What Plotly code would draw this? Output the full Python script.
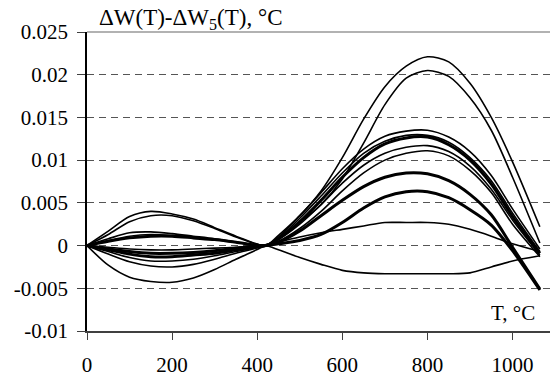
import plotly.graph_objects as go

# Temperature nodes, °C
T = [0, 50, 100, 150, 200, 250, 300, 350, 419.527, 450, 500, 550, 600, 650,
     700, 750, 800, 850, 900, 950, 1000, 1064.18]

# Deviation curves ΔW(T)-ΔW5(T), °C
curve_a = [0, 0.0017, 0.0034, 0.0040, 0.0037, 0.0031, 0.0021, 0.0011, 0,
           0.0012, 0.0035, 0.0064, 0.0103, 0.0148, 0.0186, 0.0210, 0.0221, 0.0215, 0.0190, 0.0150, 0.0098, 0.0022]
curve_b = [0, -0.0023, -0.0037, -0.0042, -0.0043, -0.0038, -0.0028, -0.0016, 0,
           0.0008, 0.0027, 0.0048, 0.0078, 0.0120, 0.0165, 0.0196, 0.0205, 0.0198, 0.0173, 0.0135, 0.0080, 0.0003]
curve_c1 = [0, 0.0013, 0.0028, 0.0035, 0.0035, 0.0029, 0.0020, 0.0010, 0,
            0.0010, 0.0035, 0.0062, 0.0090, 0.0113, 0.0128, 0.0134, 0.0135, 0.0127, 0.0110, 0.0082, 0.0043, -0.0004]
curve_c2 = [0, 0.0008, 0.0015, 0.0016, 0.0014, 0.0011, 0.0008, 0.0004, 0,
            0.0009, 0.0032, 0.0058, 0.0085, 0.0108, 0.0122, 0.0129, 0.0129, 0.0121, 0.0103, 0.0076, 0.0038, -0.0007]
curve_c3 = [0, 0.0005, 0.0009, 0.0011, 0.0011, 0.0009, 0.0007, 0.0004, 0,
            0.0008, 0.0028, 0.0053, 0.0080, 0.0103, 0.0119, 0.0126, 0.0127, 0.0118, 0.0100, 0.0072, 0.0034, -0.0009]
curve_c4 = [0, -0.0010, -0.0019, -0.0024, -0.0025, -0.0022, -0.0016, -0.0009, 0,
            0.0007, 0.0025, 0.0048, 0.0073, 0.0094, 0.0108, 0.0115, 0.0117, 0.0110, 0.0093, 0.0066, 0.0030, -0.0011]
curve_c5 = [0, -0.0007, -0.0014, -0.0018, -0.0018, -0.0016, -0.0012, -0.0007, 0,
            0.0005, 0.0020, 0.0040, 0.0064, 0.0085, 0.0100, 0.0108, 0.0111, 0.0105, 0.0088, 0.0062, 0.0025, -0.0013]
curve_d1 = [0, -0.0004, -0.0007, -0.0009, -0.0009, -0.0008, -0.0006, -0.0003, 0,
            0.0004, 0.0017, 0.0035, 0.0053, 0.0069, 0.0080, 0.0085, 0.0084, 0.0076, 0.0060, 0.0036, -0.0002, -0.0051]
curve_d2 = [0, -0.0005, -0.0010, -0.0013, -0.0013, -0.0011, -0.0009, -0.0005, 0,
            0.0002, 0.0006, 0.0013, 0.0027, 0.0044, 0.0057, 0.0063, 0.0063, 0.0056, 0.0042, 0.0024, -0.0006, -0.0052]
curve_e = [0, 0.0006, 0.0011, 0.0013, 0.0012, 0.0010, 0.0007, 0.0004, 0,
           0.0004, 0.0010, 0.0015, 0.0019, 0.0023, 0.0027, 0.0027, 0.0027, 0.0025, 0.0019, 0.0011, 0.0002, -0.0007]
curve_f = [0, -0.0002, -0.0004, -0.0005, -0.0005, -0.0004, -0.0003, -0.0002, 0,
           -0.0005, -0.0014, -0.0022, -0.0029, -0.0032, -0.0033, -0.0033, -0.0033, -0.0033, -0.0032, -0.0025, -0.0018, -0.0012]

thin_curves = [curve_a, curve_b, curve_c1, curve_c2, curve_c4, curve_c5, curve_e, curve_f]
thick_curves = [curve_c3, curve_d1, curve_d2]

x_ticks = [0, 200, 400, 600, 800, 1000]
y_ticks = [-0.01, -0.005, 0, 0.005, 0.01, 0.015, 0.02, 0.025]
y_tick_text = ["-0.01", "-0.005", "0", "0.005", "0.01", "0.015", "0.02", "0.025"]

FONT = "Liberation Serif"

fig = go.Figure()
for c in thin_curves:
    fig.add_trace(go.Scatter(x=T, y=c, mode="lines",
                             line=dict(color="black", width=1.6, shape="spline", smoothing=0.8),
                             showlegend=False, hoverinfo="skip"))
for c in thick_curves:
    fig.add_trace(go.Scatter(x=T, y=c, mode="lines",
                             line=dict(color="black", width=3, shape="spline", smoothing=0.8),
                             showlegend=False, hoverinfo="skip"))

fig.update_layout(
    width=550, height=377,
    margin=dict(l=87, r=0, t=32, b=46, autoexpand=False),
    paper_bgcolor="white", plot_bgcolor="white",
    font=dict(family=FONT, size=21, color="black"),
    xaxis=dict(range=[0, 1088], tickvals=x_ticks, showgrid=False, zeroline=False,
               showline=True, linecolor="#404040", linewidth=1.5,
               ticks="outside", ticklen=7, tickcolor="#404040", tickwidth=1,
               tickfont=dict(family=FONT, size=21, color="black"),
               ticklabelstandoff=7, automargin=False, fixedrange=True),
    yaxis=dict(range=[-0.01, 0.025], tickvals=y_ticks, ticktext=y_tick_text,
               showgrid=True, gridcolor="#555555", griddash="7px,5px", gridwidth=1,
               zeroline=False, showline=True, linecolor="black", linewidth=1.5,
               ticks="outside", ticklen=8, tickcolor="#404040", tickwidth=1,
               tickfont=dict(family=FONT, size=21, color="black"),
               ticklabelstandoff=5, automargin=False, fixedrange=True),
    shapes=[dict(type="line", xref="paper", yref="paper", x0=0, x1=1, y0=1, y1=1,
                 line=dict(color="#999999", width=1.5))],
    annotations=[
        dict(text="ΔW(T)-ΔW<sub>5</sub>(T), °C", xref="paper", yref="paper",
             x=0.0216, y=1.045, xanchor="left", yanchor="middle", showarrow=False,
             font=dict(family=FONT, size=23, color="black")),
        dict(text="T, °C", xref="paper", yref="paper",
             x=0.972, y=0.06, xanchor="right", yanchor="middle", showarrow=False,
             font=dict(family=FONT, size=21, color="black")),
    ],
)

fig.write_html("out.html")
